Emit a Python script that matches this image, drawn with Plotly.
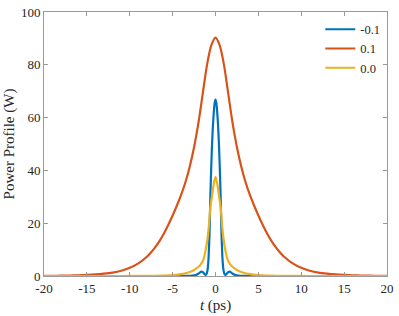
import plotly.graph_objects as go

# ---- data ----
t_orange = [-20, -19, -18, -17, -16, -15, -14, -13, -12, -11, -10, -9, -8, -7.5, -7, -6.5, -6, -5.5, -5,
            -4.5, -4, -3.5, -3, -2.5, -2, -1.5, -1, -0.5, 0,
            0.5, 1, 1.5, 2, 2.5, 3, 3.5, 4, 4.5, 5, 5.5, 6, 6.5, 7, 7.5, 8, 9, 10, 11, 12, 13, 14, 15,
            16, 17, 18, 19, 20]
p_orange = [0.05, 0.08, 0.12, 0.18, 0.27, 0.4, 0.58, 0.87, 1.3, 2.0, 3.1, 4.8, 7.3, 9.0, 11.0, 13.4, 16.2, 19.4, 22.9,
            26.7, 30.8, 35.6, 41.5, 48.8, 57.8, 68.8, 79.8, 87.3, 90.3,
            87.3, 79.8, 68.8, 57.8, 48.8, 41.5, 35.6, 30.8, 26.7, 22.9, 19.4, 16.2, 13.4, 11.0, 9.0, 7.3, 4.8, 3.1, 2.0,
            1.3, 0.87, 0.58, 0.4, 0.27, 0.18, 0.12, 0.08, 0.05]

t_blue = [-20, -15, -10, -7, -5, -4, -3.2, -2.7, -2.3, -2.0, -1.8, -1.65, -1.5, -1.35, -1.2, -1.1, -1.0, -0.9, -0.8,
          -0.7, -0.6, -0.5, -0.4, -0.3, -0.2, -0.1, 0,
          0.1, 0.2, 0.3, 0.4, 0.5, 0.6, 0.7, 0.8, 0.9, 1.0, 1.1, 1.2, 1.35, 1.5, 1.65, 1.8, 2.0, 2.3, 2.7, 3.2, 4, 5,
          7, 10, 15, 20]
p_blue = [0, 0, 0, 0, 0, 0.02, 0.05, 0.15, 0.4, 0.85, 1.4, 1.65, 1.5, 1.0, 0.45, 0.5, 1.2, 3.0, 7.5,
          16.0, 30.0, 41.0, 50.0, 57.0, 62.0, 65.5, 66.8,
          65.5, 62.0, 57.0, 50.0, 41.0, 30.0, 16.0, 7.5, 3.0, 1.2, 0.5, 0.45, 1.0, 1.5, 1.65, 1.4, 0.85, 0.4, 0.15,
          0.05, 0.02, 0, 0, 0, 0, 0]

t_yellow = [-20, -15, -12, -10, -8, -7, -6, -5, -4, -3.5, -3.0, -2.5, -2.0, -1.7, -1.4, -1.2, -1.0, -0.8, -0.6,
            -0.4, -0.2, 0,
            0.2, 0.4, 0.6, 0.8, 1.0, 1.2, 1.4, 1.7, 2.0, 2.5, 3.0, 3.5, 4, 5, 6, 7, 8, 10, 12, 15, 20]
p_yellow = [0, 0, 0, 0.02, 0.05, 0.09, 0.18, 0.35, 0.7, 1.05, 1.5, 2.3, 3.4, 4.5, 6.3, 9.0, 12.5, 18.0, 26.0,
            30.5, 35.0, 37.6,
            35.0, 30.5, 26.0, 18.0, 12.5, 9.0, 6.3, 4.5, 3.4, 2.3, 1.5, 1.05, 0.7, 0.35, 0.18, 0.09, 0.05, 0.02,
            0, 0, 0]

series_names = ["-0.1", "0.1", "0.0"]
series_colors = ["#0072BD", "#D95319", "#EDB120"]

x_ticks = [-20, -15, -10, -5, 0, 5, 10, 15, 20]
x_tick_labels = ["-20", "-15", "-10", "-5", "0", "5", "10", "15", "20"]
y_ticks = [0, 20, 40, 60, 80, 100]
y_tick_labels = ["0", "20", "40", "60", "80", "100"]

FONT = "Liberation Serif, Times New Roman, DejaVu Serif, serif"
AXIS = "#9a9a9a"
TXT = "#262626"

fig = go.Figure()
for t, p, name, col in [(t_blue, p_blue, series_names[0], series_colors[0]),
                        (t_orange, p_orange, series_names[1], series_colors[1]),
                        (t_yellow, p_yellow, series_names[2], series_colors[2])]:
    fig.add_trace(go.Scatter(x=t, y=p, mode="lines", name=name,
                             line=dict(color=col, width=2.2, shape="spline", smoothing=0.7)))

axis_common = dict(showgrid=False, zeroline=False, showline=True, linecolor=AXIS, linewidth=1,
                   mirror="allticks", ticks="inside", ticklen=4, tickcolor=AXIS, tickwidth=1,
                   ticklabeloverflow="allow",
                   tickfont=dict(family=FONT, size=13, color=TXT))

fig.update_layout(
    width=399, height=316,
    margin=dict(l=44, r=8, t=5, b=40),
    paper_bgcolor="white", plot_bgcolor="white",
    font=dict(family=FONT, color=TXT),
    showlegend=True,
    legend=dict(x=0.995, xanchor="right", y=0.99, yanchor="top", bgcolor="rgba(255,255,255,0)",
                font=dict(family=FONT, size=12.5, color=TXT), itemwidth=30, tracegroupgap=0),
    xaxis=dict(range=[-20, 20], tickvals=x_ticks, ticktext=x_tick_labels,
               title=dict(text="<i>t</i> (ps)", font=dict(family=FONT, size=15, color=TXT), standoff=4),
               **axis_common),
    yaxis=dict(range=[0, 100], tickvals=y_ticks, ticktext=y_tick_labels,
               title=dict(text="Power Profile (W)", font=dict(family=FONT, size=15, color=TXT), standoff=2),
               **axis_common),
)

fig.write_html("out.html", config={"displayModeBar": False},
               post_script="document.body.style.margin='0';")
